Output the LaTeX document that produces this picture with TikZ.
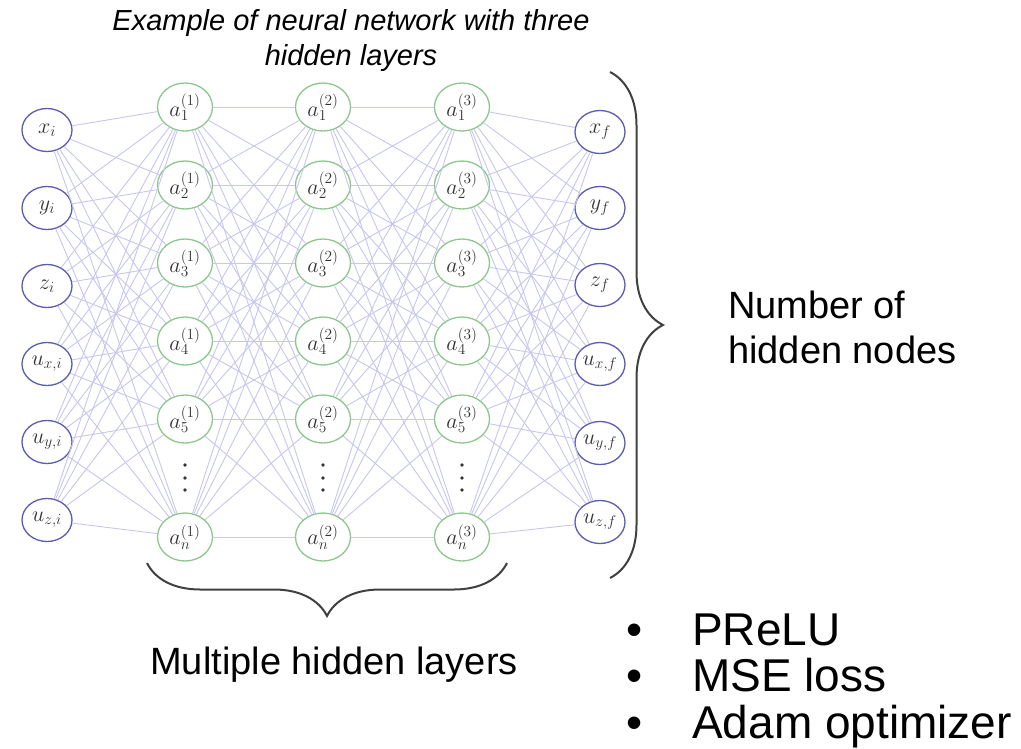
\RequirePackage{fix-cm}
\documentclass[tikz,border=0pt]{standalone}
\usepackage[no-math]{fontspec}
\setmainfont{Liberation Sans}
\usepackage{xcolor}
\usetikzlibrary{shapes.geometric, decorations.pathreplacing, positioning}

\definecolor{inblue}{RGB}{92,92,178}
\definecolor{hidgreen}{RGB}{140,200,140}
\definecolor{edgecol}{RGB}{198,198,238}
\definecolor{bracegray}{RGB}{64,64,64}

\begin{document}
\begin{tikzpicture}[
    x=1pt, y=-1pt,
    % Neuronas de entrada y salida
    ionode/.style={
        ellipse,
        draw=inblue,
        line width=1.3pt,
        fill=white,
        minimum width=50pt,
        minimum height=43pt,
        inner sep=0pt,
        text=black!80,
        font=\fontsize{22}{26}\selectfont
    },
    % Neuronas de las capas ocultas
    hidnode/.style={
        ellipse,
        draw=hidgreen,
        line width=1.3pt,
        fill=white,
        minimum width=55pt,
        minimum height=48pt,
        inner sep=0pt,
        text=black!80,
        font=\fontsize{22}{26}\selectfont
    },
    % Conexiones entre capas
    link/.style={draw=edgecol, line width=0.9pt},
    % Llaves grandes
    bigbrace/.style={
        decorate,
        decoration={brace, amplitude=53pt},
        draw=bracegray,
        line width=2pt
    },
    % Textos grandes
    bigtext/.style={
        inner sep=0pt,
        align=left,
        font=\fontsize{38}{45}\selectfont
    }
]
    \useasboundingbox (0,0) rectangle (1021,748);

    % --- TÍTULO ---
    \node[font=\itshape\fontsize{29}{35}\selectfont, align=center] (titulo) at (351,40)
        {Example of neural network with three\\hidden layers};

    % --- CAPA DE ENTRADA ---
    \foreach \y/\lab [count=\i] in {130/x_i, 208/y_i, 286/z_i, 364/{u_{x,i}}, 442/{u_{y,i}}, 520/{u_{z,i}}}
        \node[ionode] (inp\i) at (47,\y) {$\lab$};

    % --- CAPAS OCULTAS ---
    \foreach \l/\x in {1/185, 2/323, 3/462} {
        \foreach \y/\k [count=\i] in {107/1, 185/2, 263/3, 341/4, 419/5, 537/n}
            \node[hidnode] (hid\l-\i) at (\x,\y) {$a_{\k}^{(\l)}$};
        % puntos verticales
        \foreach \d in {465, 478, 490}
            \fill[black!80] (\x,\d) circle (1.8pt);
    }

    % --- CAPA DE SALIDA ---
    \foreach \y/\lab [count=\i] in {132/x_f, 208/y_f, 285/z_f, 364/{u_{x,f}}, 443/{u_{y,f}}, 522/{u_{z,f}}}
        \node[ionode] (out\i) at (600,\y) {$\lab$};

    % --- CONEXIONES (todas contra todas) ---
    \foreach \i in {1,...,6}
        \foreach \j in {1,...,6} {
            \draw[link] (inp\i) -- (hid1-\j);
            \draw[link] (hid1-\i) -- (hid2-\j);
            \draw[link] (hid2-\i) -- (hid3-\j);
            \draw[link] (hid3-\i) -- (out\j);
        }

    % --- LLAVES ---
    \coordinate (rbTop) at (610,72);
    \coordinate (rbBot) at (610,578);
    \draw[bigbrace] (rbTop) -- (rbBot);

    \coordinate (bbRight) at (507,563);
    \coordinate (bbLeft) at (147,563);
    \draw[bigbrace] (bbRight) -- (bbLeft);

    % --- ETIQUETAS ---
    \node[bigtext, anchor=west] (nodos) at (728,327) {Number of\\hidden nodes};
    \node[bigtext] (capas) at (334,665) {Multiple hidden layers};

    % Lista de detalles del entrenamiento
    \node[inner sep=0pt, anchor=base west, font=\fontsize{46}{44}\selectfont] (lista) at (626,645) {%
        \begin{tabular}[t]{@{}l@{\hspace{50pt}}l@{}}
            \textbullet & PReLU\\
            \textbullet & MSE loss\\
            \textbullet & Adam optimizer
        \end{tabular}};

\end{tikzpicture}
\end{document}
